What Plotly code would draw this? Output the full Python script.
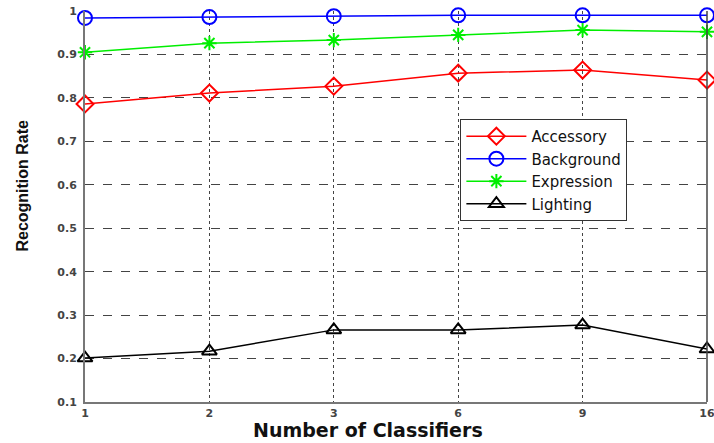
import plotly.graph_objects as go

categories = ["1", "2", "3", "6", "9", "16"]
accessory = [0.786, 0.811, 0.827, 0.857, 0.864, 0.841]
background = [0.984, 0.986, 0.988, 0.990, 0.990, 0.990]
expression = [0.905, 0.926, 0.933, 0.945, 0.956, 0.952]
lighting = [0.201, 0.217, 0.266, 0.266, 0.277, 0.222]
y_ticks = [0.1, 0.2, 0.3, 0.4, 0.5, 0.6, 0.7, 0.8, 0.9, 1.0]
y_tick_labels = ["0.1", "0.2", "0.3", "0.4", "0.5", "0.6", "0.7", "0.8", "0.9", "1"]

fig = go.Figure()
series = [
    ("Accessory", accessory, "#ff0000", "diamond-open", 13),
    ("Background", background, "#0000ff", "circle-open", 14),
    ("Expression", expression, "#00ee00", "asterisk-open", 12),
    ("Lighting", lighting, "#000000", "triangle-up-open", 13),
]
for name, vals, color, sym, size in series:
    fig.add_trace(go.Scatter(
        x=categories, y=vals, name=name, mode="lines+markers",
        line=dict(color=color, width=1.5),
        marker=dict(symbol=sym, size=size, color=color, line=dict(width=2, color=color)),
        cliponaxis=False,
    ))

tick_font = dict(size=11, color="#444", family="DejaVu Sans", weight="bold")

fig.update_layout(
    width=714, height=443,
    margin=dict(l=85, r=7, t=11, b=41),
    paper_bgcolor="white", plot_bgcolor="white",
    font=dict(family="DejaVu Sans", color="#222"),
    showlegend=True,
    legend=dict(
        x=0.6035, y=0.724, xanchor="left", yanchor="top",
        bgcolor="white", bordercolor="#333", borderwidth=1,
        font=dict(size=15, color="#111", family="DejaVu Sans"),
        tracegroupgap=0, itemwidth=60,
    ),
    xaxis=dict(
        type="category", range=[0, 5], automargin=False,
        showgrid=True, gridcolor="#444", griddash="dot", gridwidth=1,
        showline=True, linecolor="#777", linewidth=2,
        ticks="", tickfont=tick_font, ticklabeloverflow="allow",
        zeroline=False,
    ),
    yaxis=dict(
        range=[0.1, 1.0], tickvals=y_ticks, ticktext=y_tick_labels, automargin=False,
        showgrid=True, gridcolor="#444", griddash="dash", gridwidth=1,
        showline=True, linecolor="#777", linewidth=2,
        ticks="", tickfont=tick_font, ticklabelstandoff=4, ticklabeloverflow="allow",
        zeroline=False,
    ),
    annotations=[
        dict(text="<b>Number of Classifiers</b>", xref="paper", yref="paper",
             x=0.455, y=-0.072, xanchor="center", yanchor="middle", showarrow=False,
             font=dict(size=19, color="#111", family="DejaVu Sans")),
        dict(text="<b>Recognition Rate</b>", xref="paper", yref="paper", textangle=-90,
             x=-0.1, y=0.553, xanchor="center", yanchor="middle", showarrow=False,
             font=dict(size=16, color="#111", family="Liberation Sans")),
    ],
    shapes=[dict(type="line", xref="paper", yref="paper", x0=1, x1=1, y0=0, y1=1,
                 line=dict(color="#444", width=1.5))],
)

fig.write_html(
    "out.html",
    config={"displayModeBar": False},
    post_script="document.body.style.margin='0';document.body.style.overflow='hidden';",
)
